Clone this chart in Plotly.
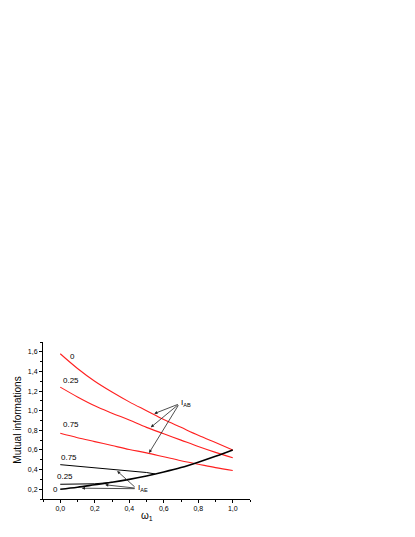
import plotly.graph_objects as go

# I_AB curves (red)
x_ab = [0.0, 0.1, 0.2, 0.3, 0.4, 0.5, 0.6, 0.7, 0.8, 0.9, 1.0]
iab_0 = [1.58, 1.43, 1.30, 1.19, 1.09, 1.00, 0.91, 0.83, 0.75, 0.675, 0.60]
iab_025 = [1.24, 1.14, 1.05, 0.975, 0.905, 0.83, 0.765, 0.70, 0.635, 0.575, 0.52]
iab_075 = [0.77, 0.725, 0.685, 0.645, 0.605, 0.57, 0.53, 0.49, 0.455, 0.42, 0.39]

# I_AE curves (black)
x_ae0 = [0.0, 0.1, 0.2, 0.3, 0.4, 0.5, 0.6, 0.7, 0.8, 0.9, 1.0]
iae_0 = [0.20, 0.22, 0.245, 0.27, 0.30, 0.335, 0.375, 0.42, 0.475, 0.535, 0.60]
x_ae025 = [0.0, 0.1, 0.2, 0.3]
iae_025 = [0.25, 0.25, 0.255, 0.27]
x_ae075 = [0.0, 0.1, 0.2, 0.3, 0.4, 0.5, 0.55]
iae_075 = [0.45, 0.435, 0.42, 0.405, 0.39, 0.37, 0.355]

fig = go.Figure()
for y in [iab_0, iab_025, iab_075]:
    fig.add_trace(go.Scatter(x=x_ab, y=y, mode='lines', line_shape='spline',
                             line=dict(color='#ff2020', width=1.1), showlegend=False))
fig.add_trace(go.Scatter(x=x_ae075, y=iae_075, mode='lines',
                         line=dict(color='black', width=1), showlegend=False))
fig.add_trace(go.Scatter(x=x_ae025, y=iae_025, mode='lines',
                         line=dict(color='black', width=1), showlegend=False))
fig.add_trace(go.Scatter(x=x_ae0, y=iae_0, mode='lines', line_shape='spline',
                         line=dict(color='black', width=1.6), showlegend=False))

txt = dict(family='Liberation Sans, Arial', size=8, color='black')
labels = [(0.07, 1.55, '0'), (0.06, 1.31, '0.25'), (0.06, 0.86, '0.75'),
          (0.05, 0.52, '0.75'), (0.03, 0.33, '0.25'), (-0.03, 0.2, '0')]
for lx, ly, t in labels:
    fig.add_annotation(x=lx, y=ly, text=t, showarrow=False, font=txt)

fig.add_annotation(x=0.69, y=1.08, text='I<sub>AB</sub>', showarrow=False,
                   xanchor='left', font=txt)
fig.add_annotation(x=0.44, y=0.21, text='I<sub>AE</sub>', showarrow=False,
                   xanchor='left', font=txt)

# arrows: (head x, head y, tail x, tail y)
ab_arrows = [(0.545, 0.97, 0.69, 1.07), (0.525, 0.83, 0.69, 1.07), (0.515, 0.57, 0.69, 1.07)]
ae_arrows = [(0.33, 0.385, 0.44, 0.21), (0.26, 0.245, 0.44, 0.21), (0.125, 0.21, 0.44, 0.205)]
for hx, hy, tx, ty in ab_arrows + ae_arrows:
    fig.add_annotation(x=hx, y=hy, ax=tx, ay=ty, xref='x', yref='y', axref='x', ayref='y',
                       text='', showarrow=True, arrowhead=2, arrowsize=0.8,
                       arrowwidth=0.8, arrowcolor='#222')

# axis titles
fig.add_annotation(x=0.5, y=0, xref='paper', yref='paper', yshift=-17, showarrow=False,
                   text='ω<sub>1</sub>', font=dict(size=10), yanchor='middle')
fig.add_annotation(x=-0.125, y=0.5, xref='paper', yref='paper', showarrow=False,
                   xanchor='center', yanchor='middle',
                   text='Mutual informations', textangle=-90, font=dict(size=10))

fig.update_layout(
    width=415, height=537,
    margin=dict(l=35, r=173, t=334, b=46),
    plot_bgcolor='white', paper_bgcolor='white',
    separators=',.',
    font=dict(family='Liberation Sans, Arial', size=7, color='black'),
    xaxis=dict(range=[-0.1, 1.1], tick0=0, dtick=0.2, tickformat='.1f', automargin=False,
               showgrid=False, zeroline=False, showline=True, linecolor='black',
               linewidth=1, ticks='outside', ticklen=3, tickcolor='black',
               minor=dict(dtick=0.1, ticks='outside', ticklen=2, tickcolor='black')),
    yaxis=dict(range=[0.1, 1.7], tick0=0, dtick=0.2, tickformat='.1f', automargin=False,
               showgrid=False, zeroline=False, showline=True, linecolor='black',
               linewidth=1, ticks='outside', ticklen=3, tickcolor='black',
               minor=dict(dtick=0.1, ticks='outside', ticklen=2, tickcolor='black')),
)

fig.write_html("out.html")
